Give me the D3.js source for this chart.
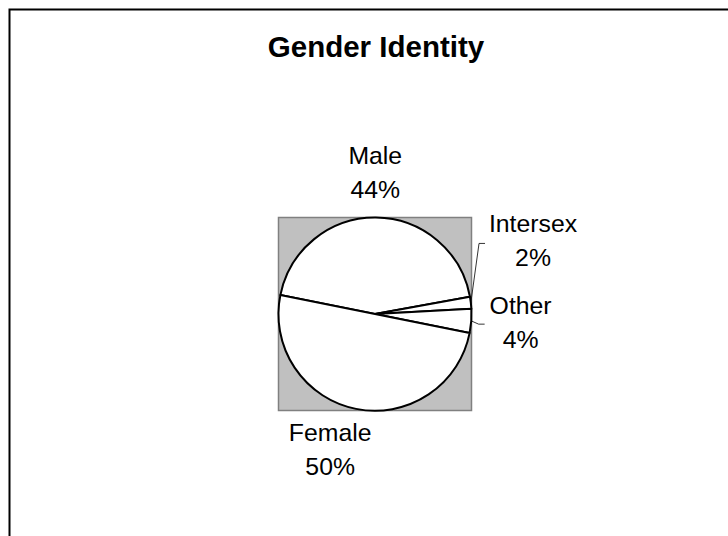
<!DOCTYPE html>
<html>
<head>
<meta charset="utf-8">
<script src="https://cdn.jsdelivr.net/npm/d3@7"></script>
<style>
  body { margin: 0; background: #fff; }
  text { font-family: "Liberation Sans", Arial, sans-serif; fill: #000; }
</style>
</head>
<body>
<div id="target"></div>
<script>
var width = 728,
    height = 536;

// data, clockwise from the Male slice
var categories = ['Male', 'Intersex', 'Other', 'Female'];
var values = [44, 2, 4, 50];
var pctLabels = ['44%', '2%', '4%', '50%'];
var chartTitle = 'Gender Identity';

var cx = 375, cy = 314, radius = 96.5;
var startDeg = -78.7;

var svg = d3.select('#target').append('svg')
    .attr('width', width)
    .attr('height', height);

// outer frame (left + top only visible)
svg.append('path')
    .attr('d', 'M9.5,' + height + 'V9.5H' + width)
    .attr('fill', 'none')
    .attr('stroke', '#000')
    .attr('stroke-width', 2);

svg.append('text')
    .attr('x', 376)
    .attr('y', 57)
    .attr('text-anchor', 'middle')
    .style('font-size', '29.5px')
    .style('font-weight', 'bold')
    .text(chartTitle);

// gray plot area
svg.append('rect')
    .attr('x', cx - radius)
    .attr('y', cy - radius)
    .attr('width', radius * 2)
    .attr('height', radius * 2)
    .attr('fill', '#c0c0c0')
    .attr('stroke', '#808080')
    .attr('stroke-width', 1.5);

var rows = categories.map(function (c, i) {
    return {name: c, value: values[i], pct: pctLabels[i]};
});

var pie = d3.pie()
    .sort(null)
    .value(function (d) { return d.value; })
    .startAngle(startDeg * Math.PI / 180)
    .endAngle(startDeg * Math.PI / 180 + 2 * Math.PI);

var arcs = pie(rows);

var arc = d3.arc().innerRadius(0).outerRadius(radius);
var labelArc = d3.arc().innerRadius(142).outerRadius(142);
var edgeArc = d3.arc().innerRadius(radius).outerRadius(radius);

var g = svg.append('g').attr('transform', 'translate(' + cx + ',' + cy + ')');

g.selectAll('path.slice')
    .data(arcs)
    .enter()
    .append('path')
    .attr('class', 'slice')
    .attr('d', arc)
    .attr('fill', '#fff')
    .attr('stroke', '#000')
    .attr('stroke-width', 2)
    .attr('stroke-linejoin', 'round');

// excel-ish label placement tweaks
var nudge = {Male: [-1, 0], Female: [-17, -4], Intersex: [17, -57], Other: [4, -2]};
var leaderEnd = {Intersex: [-48, 3], Other: [-36, 2]};

function labelPos(d) {
    var c = labelArc.centroid(d);
    var n = nudge[d.data.name];
    return [c[0] + n[0], c[1] + n[1]];
}

var lbl = g.selectAll('text.lbl')
    .data(arcs)
    .enter()
    .append('text')
    .attr('class', 'lbl')
    .attr('text-anchor', 'middle')
    .style('font-size', '24.8px');

lbl.append('tspan')
    .attr('x', function (d) { return labelPos(d)[0]; })
    .attr('y', function (d) { return labelPos(d)[1] - 8; })
    .text(function (d) { return d.data.name; });

lbl.append('tspan')
    .attr('x', function (d) { return labelPos(d)[0]; })
    .attr('y', function (d) { return labelPos(d)[1] + 25.5; })
    .text(function (d) { return d.data.pct; });

// leader lines for the thin slices
g.selectAll('polyline.leader')
    .data(arcs.filter(function (d) { return leaderEnd[d.data.name]; }))
    .enter()
    .append('polyline')
    .attr('class', 'leader')
    .attr('fill', 'none')
    .attr('stroke', '#000')
    .attr('stroke-width', 0.8)
    .attr('points', function (d) {
        var p0 = edgeArc.centroid(d);
        var lp = labelPos(d);
        var o = leaderEnd[d.data.name];
        var end = [lp[0] + o[0], lp[1] + o[1]];
        var elbow = [end[0] - 6, end[1]];
        return [p0, elbow, end].map(function (p) { return p.join(','); }).join(' ');
    });
</script>
</body>
</html>
